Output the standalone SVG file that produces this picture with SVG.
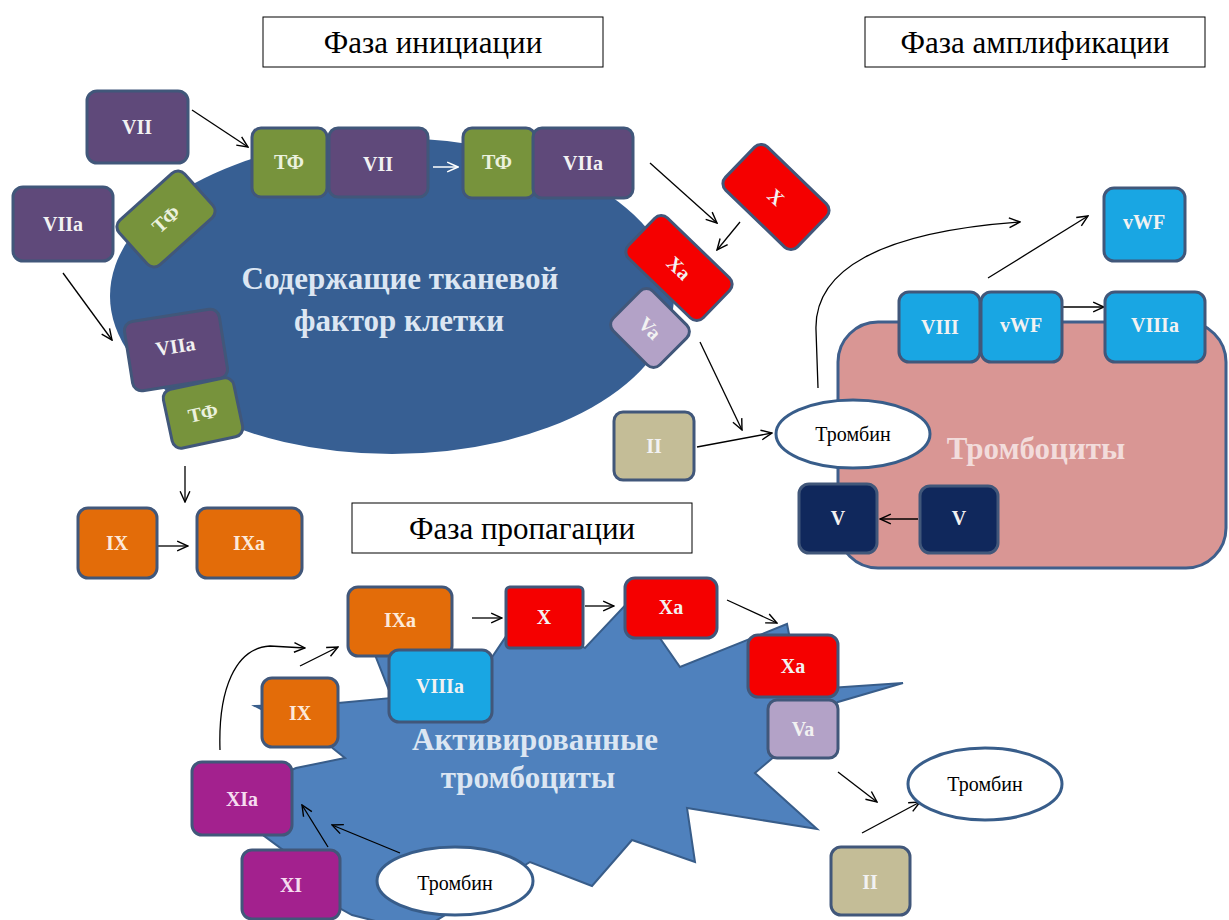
<svg xmlns="http://www.w3.org/2000/svg" width="1229" height="920" viewBox="0 0 1229 920">
<style>
.n{stroke:#41577A;stroke-width:3}
.purple{fill:#5F497A}.green{fill:#77933C}.red{fill:#F50000}.orange{fill:#E36C09}
.lav{fill:#B3A2C7}.tan{fill:#C4BD97}.cyan{fill:#19A6E3}.navy{fill:#10285C}.mag{fill:#A3218E}
.lbl{font-family:"Liberation Serif","DejaVu Serif",serif;font-weight:bold;font-size:20px;text-anchor:middle;dominant-baseline:central;fill:#F2F2F2}
.lg{fill:#EBF1DE}.lo{fill:#FDE9D9}.lp{fill:#F5DDF0}
.title{fill:#fff;stroke:#000;stroke-width:1}
.tt{font-family:"Liberation Serif","DejaVu Serif",serif;font-size:31px;text-anchor:middle;fill:#000}
.big{font-family:"Liberation Serif","DejaVu Serif",serif;font-weight:bold;font-size:31px;text-anchor:middle;fill:#DCE6F2}
.thr{fill:#fff;stroke:#385D8A;stroke-width:3}
.tht{font-family:"Liberation Serif","DejaVu Serif",serif;font-size:20px;text-anchor:middle;dominant-baseline:central;fill:#000}
.c{fill:none;stroke:#000;stroke-width:1.3;marker-end:url(#ah)}
.cw{fill:none;stroke:#fff;stroke-width:1.5;marker-end:url(#ahw)}
</style>
<defs>
<marker id="ah" viewBox="0 0 12 12" refX="11" refY="6" markerWidth="13" markerHeight="13" markerUnits="userSpaceOnUse" orient="auto"><path d="M1,1.5 L11,6 L1,10.5" fill="none" stroke="#000" stroke-width="1.3"/></marker>
<marker id="ahw" viewBox="0 0 12 12" refX="11" refY="6" markerWidth="13" markerHeight="13" markerUnits="userSpaceOnUse" orient="auto"><path d="M1,1.5 L11,6 L1,10.5" fill="none" stroke="#fff" stroke-width="1.5"/></marker>
</defs>
<rect width="1229" height="920" fill="#fff"/>

<!-- titles -->
<g id="title-init"><rect class="title" x="263" y="17" width="340" height="50"/><text class="tt" x="433" y="53">Фаза инициации</text></g>
<g id="title-ampl"><rect class="title" x="865" y="17" width="340" height="50"/><text class="tt" x="1035" y="53">Фаза амплификации</text></g>
<g id="title-prop"><rect class="title" x="352" y="503" width="340" height="50"/><text class="tt" x="522" y="539">Фаза пропагации</text></g>

<!-- cells -->
<g id="tf-cell"><ellipse cx="392" cy="296" rx="282" ry="158" fill="#375F93"/><text class="big" x="400" y="289">Содержащие тканевой</text><text class="big" x="399" y="331">фактор клетки</text></g>
<g id="platelet"><rect x="838" y="322" width="388" height="246" rx="40" fill="#D99694" stroke="#3F5F8C" stroke-width="3"/><text class="big" x="1036" y="459" style="fill:#F2DCDB">Тромбоциты</text></g>
<g id="act-platelet"><polygon points="255,706 338,703 392,698 362,622 470,690 525,608 585,648 632,598 680,667 787,624 800,690 903,683 838,702 755,773 817,829 687,808 695,862 632,840 592,886 530,862 418,932 352,915 298,885 283,850 218,802 296,768 345,758 325,742" fill="#4F81BD" stroke="#385D8A" stroke-width="2" stroke-linejoin="miter"/><text class="big" x="535" y="750">Активированные</text><text class="big" x="528" y="788">тромбоциты</text></g>

<!-- connectors -->
<g id="connectors">
<line class="c" x1="192" y1="110" x2="248" y2="147"/>
<line class="c" x1="63" y1="273" x2="112" y2="340"/>
<line class="cw" x1="433" y1="167" x2="458" y2="167"/>
<line class="c" x1="650" y1="163" x2="717" y2="223"/>
<line class="c" x1="740" y1="222" x2="717" y2="250"/>
<line class="c" x1="700" y1="342" x2="742" y2="430"/>
<line class="c" x1="697" y1="447" x2="772" y2="433"/>
<line class="c" x1="185" y1="466" x2="185" y2="502"/>
<line class="c" x1="158" y1="546" x2="188" y2="546"/>
<path class="c" d="M818,388 L816,330 C814,270 880,232 1020,222"/>
<line class="c" x1="988" y1="278" x2="1088" y2="216"/>
<line class="c" x1="1062" y1="307" x2="1104" y2="307"/>
<line class="c" x1="918" y1="519" x2="880" y2="519"/>
<line class="c" x1="472" y1="618" x2="502" y2="618"/>
<line class="c" x1="585" y1="606" x2="614" y2="606"/>
<line class="c" x1="727" y1="600" x2="777" y2="623"/>
<line class="c" x1="300" y1="666" x2="338" y2="647"/>
<path class="c" d="M220,750 C218,690 235,648 270,646 L305,648"/>
<line class="c" x1="328" y1="847" x2="302" y2="805"/>
<line class="c" x1="400" y1="853" x2="332" y2="825"/>
<line class="c" x1="838" y1="772" x2="877" y2="802"/>
<line class="c" x1="862" y1="833" x2="920" y2="802"/>
</g>

<!-- initiation nodes -->
<g id="n-vii-free"><rect class="n purple" x="87" y="91" width="101" height="72" rx="10"/><text class="lbl" x="137" y="127">VII</text></g>
<g id="n-viia-free"><rect class="n purple" x="13" y="187" width="100" height="74" rx="10"/><text class="lbl" x="63" y="224">VIIa</text></g>
<g id="n-tf-rot" transform="translate(166,219) rotate(-42)"><rect class="n green" x="-44" y="-30" width="88" height="60" rx="9"/><text class="lbl lg" x="0" y="0">ТФ</text></g>
<g id="n-tf-1"><rect class="n green" x="252" y="128" width="75" height="69" rx="9"/><text class="lbl lg" x="289" y="162">ТФ</text></g>
<g id="n-vii-tf"><rect class="n purple" x="329" y="128" width="99" height="69" rx="9"/><text class="lbl" x="378" y="164">VII</text></g>
<g id="n-tf-2"><rect class="n green" x="463" y="128" width="72" height="70" rx="9"/><text class="lbl lg" x="497" y="162">ТФ</text></g>
<g id="n-viia-tf"><rect class="n purple" x="533" y="128" width="100" height="70" rx="9"/><text class="lbl" x="583" y="163">VIIa</text></g>
<g id="n-viia-low" transform="translate(176,350) rotate(-9)"><rect class="n purple" x="-48" y="-35" width="96" height="70" rx="9"/><text class="lbl" x="0" y="-4">VIIa</text></g>
<g id="n-tf-low" transform="translate(203,413) rotate(-12)"><rect class="n green" x="-36" y="-30" width="72" height="60" rx="9"/><text class="lbl lg" x="0" y="0">ТФ</text></g>
<g id="n-x-rot" transform="translate(776,197) rotate(44)"><rect class="n red" x="-50" y="-30" width="100" height="60" rx="9"/><text class="lbl" x="0" y="0">X</text></g>
<g id="n-xa-rot" transform="translate(679,268) rotate(44)"><rect class="n red" x="-52" y="-28" width="104" height="56" rx="9"/><text class="lbl" x="0" y="0">Xa</text></g>
<g id="n-va-rot" transform="translate(650,328) rotate(45)"><rect class="n lav" x="-33" y="-28" width="66" height="56" rx="9"/><text class="lbl" x="0" y="0">Va</text></g>
<g id="n-ix-1"><rect class="n orange" x="78" y="508" width="79" height="70" rx="10"/><text class="lbl lo" x="117" y="543">IX</text></g>
<g id="n-ixa-1"><rect class="n orange" x="197" y="508" width="105" height="70" rx="10"/><text class="lbl lo" x="249" y="543">IXa</text></g>
<g id="n-ii-1"><rect class="n tan" x="614" y="412" width="80" height="68" rx="9"/><text class="lbl" x="654" y="446">II</text></g>
<g id="n-thrombin-1"><ellipse class="thr" cx="853" cy="434" rx="77" ry="34"/><text class="tht" x="853" y="434">Тромбин</text></g>

<!-- amplification nodes -->
<g id="n-vwf-free"><rect class="n cyan" x="1104" y="188" width="81" height="73" rx="10"/><text class="lbl" x="1144" y="222">vWF</text></g>
<g id="n-viii"><rect class="n cyan" x="899" y="292" width="81" height="70" rx="10"/><text class="lbl" x="940" y="327">VIII</text></g>
<g id="n-vwf"><rect class="n cyan" x="981" y="292" width="81" height="70" rx="10"/><text class="lbl" x="1021" y="325">vWF</text></g>
<g id="n-viiia"><rect class="n cyan" x="1105" y="292" width="100" height="70" rx="10"/><text class="lbl" x="1155" y="325">VIIIa</text></g>
<g id="n-v-1"><rect class="n navy" x="799" y="484" width="78" height="69" rx="10"/><text class="lbl" x="838" y="518">V</text></g>
<g id="n-v-2"><rect class="n navy" x="920" y="486" width="78" height="67" rx="10"/><text class="lbl" x="959" y="518">V</text></g>

<!-- propagation nodes -->
<g id="n-ixa-2"><rect class="n orange" x="348" y="587" width="104" height="69" rx="10"/><text class="lbl lo" x="400" y="620">IXa</text></g>
<g id="n-x-2"><rect class="n red" x="506" y="587" width="77" height="61" rx="4"/><text class="lbl" x="544" y="617">X</text></g>
<g id="n-xa-2"><rect class="n red" x="625" y="578" width="92" height="60" rx="10"/><text class="lbl" x="671" y="607">Xa</text></g>
<g id="n-viiia-2"><rect class="n cyan" x="389" y="650" width="103" height="72" rx="10"/><text class="lbl" x="440" y="686">VIIIa</text></g>
<g id="n-ix-2"><rect class="n orange" x="262" y="678" width="76" height="69" rx="10"/><text class="lbl lo" x="300" y="713">IX</text></g>
<g id="n-xa-3"><rect class="n red" x="748" y="635" width="90" height="62" rx="10"/><text class="lbl" x="793" y="666">Xa</text></g>
<g id="n-va-2"><rect class="n lav" x="768" y="700" width="70" height="58" rx="9"/><text class="lbl" x="803" y="729">Va</text></g>
<g id="n-xia"><rect class="n mag" x="192" y="762" width="100" height="73" rx="10"/><text class="lbl lp" x="242" y="799">XIa</text></g>
<g id="n-xi"><rect class="n mag" x="242" y="850" width="98" height="69" rx="10"/><text class="lbl lp" x="291" y="885">XI</text></g>
<g id="n-thrombin-2"><ellipse class="thr" cx="455" cy="881" rx="78" ry="34"/><text class="tht" x="455" y="883">Тромбин</text></g>
<g id="n-thrombin-3"><ellipse class="thr" cx="985" cy="784" rx="77" ry="36"/><text class="tht" x="985" y="784">Тромбин</text></g>
<g id="n-ii-2"><rect class="n tan" x="831" y="847" width="79" height="68" rx="10"/><text class="lbl" x="870" y="882">II</text></g>
</svg>
